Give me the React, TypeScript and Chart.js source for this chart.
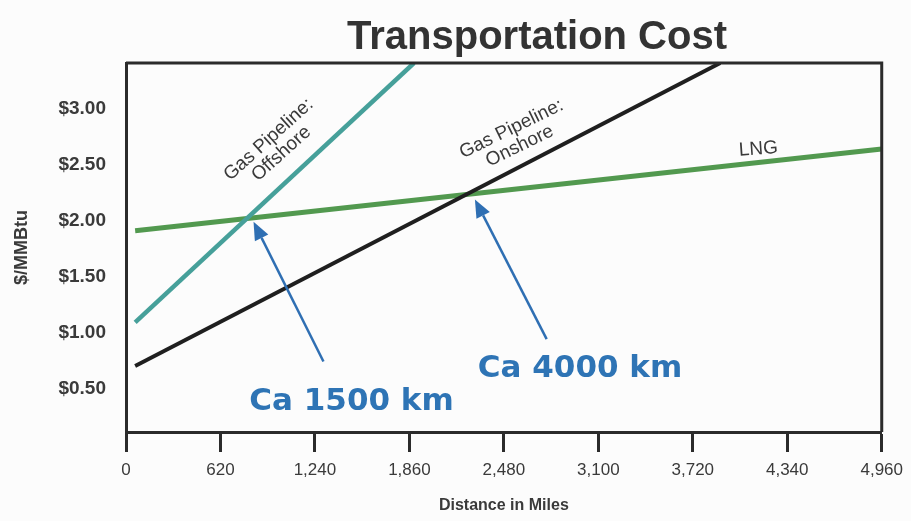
import React, { useEffect, useRef } from 'react';
import { Chart, registerables } from 'chart.js';

Chart.register(...registerables);

// Axis tick values
const distanceTicks = [0, 620, 1240, 1860, 2480, 3100, 3720, 4340, 4960]; // miles
const costTicks = [0.5, 1.0, 1.5, 2.0, 2.5, 3.0]; // $/MMBtu

// Each cost curve is a straight run between two points
const offshoreMiles = [60, 1890];
const offshoreCost = [1.09, 3.41];
const onshoreMiles = [60, 3900];
const onshoreCost = [0.7, 3.41];
const lngMiles = [60, 4960];
const lngCost = [1.91, 2.64];

// Break-even callouts
const calloutText = ['Ca 1500 km', 'Ca 4000 km'];
const calloutTipMiles = [837, 2290];
const calloutTipCost = [1.99, 2.19];

const NARROW = "'Liberation Sans Narrow', 'Arial Narrow', 'Liberation Sans', Arial, sans-serif";
const SANS = "'Liberation Sans', Arial, sans-serif";
const CALLOUT_FONT = "'DejaVu Sans', Verdana, sans-serif";

const TEXT = '#3a3a3a';
const FRAME = '#2b2b2b';
const BLUE = '#2f6fb3';

const toPoints = (xs: number[], ys: number[]) => xs.map((x, i) => ({ x, y: ys[i] }));

// Placement of the rotated line labels and the arrow callouts (data units)
const lineLabels = [
  { lines: ['Gas Pipeline:', 'Offshore'], miles: 936, cost: 2.725, angle: -42, size: 19 },
  { lines: ['Gas Pipeline:', 'Onshore'], miles: 2530, cost: 2.82, angle: -26, size: 19 },
  { lines: ['LNG'], miles: 4150, cost: 2.64, angle: -4, size: 19 },
];
const calloutLayout = [
  { tailMiles: 1296, tailCost: 0.74, textMiles: 1480, textCost: 0.38 },
  { tailMiles: 2761, tailCost: 0.94, textMiles: 2980, textCost: 0.67 },
];

const decorations = {
  id: 'decorations',
  beforeDraw(chart: any) {
    const { ctx, width, height } = chart;
    ctx.save();
    ctx.fillStyle = '#fcfcfc';
    ctx.fillRect(0, 0, width, height);
    ctx.restore();
  },
  afterDatasetsDraw(chart: any) {
    const { ctx, chartArea: a } = chart;
    const xs = chart.scales.x;
    const ys = chart.scales.y;
    ctx.save();
    // top and right edges of the plot frame
    ctx.strokeStyle = FRAME;
    ctx.lineWidth = 3;
    ctx.beginPath();
    ctx.moveTo(a.left, a.top);
    ctx.lineTo(a.right, a.top);
    ctx.lineTo(a.right, a.bottom);
    ctx.stroke();

    // rotated labels along the lines
    ctx.fillStyle = TEXT;
    ctx.textAlign = 'center';
    ctx.textBaseline = 'middle';
    lineLabels.forEach((lab) => {
      const px = xs.getPixelForValue(lab.miles);
      const py = ys.getPixelForValue(lab.cost);
      ctx.save();
      ctx.translate(px, py);
      ctx.rotate((lab.angle * Math.PI) / 180);
      ctx.font = `${lab.size}px ${SANS}`;
      lab.lines.forEach((t, i) => ctx.fillText(t, 0, i * lab.size * 1.0));
      ctx.restore();
    });

    // arrows and callout text
    calloutLayout.forEach((c, i) => {
      const tx = xs.getPixelForValue(calloutTipMiles[i]);
      const ty = ys.getPixelForValue(calloutTipCost[i]);
      const sx = xs.getPixelForValue(c.tailMiles);
      const sy = ys.getPixelForValue(c.tailCost);
      const ang = Math.atan2(ty - sy, tx - sx);
      const headLen = 18;
      const headHalf = 7.5;
      const bx = tx - headLen * Math.cos(ang);
      const by = ty - headLen * Math.sin(ang);
      ctx.strokeStyle = BLUE;
      ctx.lineWidth = 2.5;
      ctx.beginPath();
      ctx.moveTo(sx, sy);
      ctx.lineTo(bx, by);
      ctx.stroke();
      ctx.fillStyle = BLUE;
      ctx.beginPath();
      ctx.moveTo(tx, ty);
      ctx.lineTo(bx - headHalf * Math.sin(ang), by + headHalf * Math.cos(ang));
      ctx.lineTo(bx + headHalf * Math.sin(ang), by - headHalf * Math.cos(ang));
      ctx.closePath();
      ctx.fill();

      ctx.fillStyle = '#2e74b5';
      ctx.font = `bold 31px ${CALLOUT_FONT}`;
      ctx.textAlign = 'center';
      ctx.textBaseline = 'middle';
      ctx.fillText(calloutText[i], xs.getPixelForValue(c.textMiles), ys.getPixelForValue(c.textCost));
    });
    ctx.restore();
  },
  afterDraw(chart: any) {
    const { ctx } = chart;
    ctx.save();
    ctx.fillStyle = '#333333';
    ctx.font = `bold 40px ${SANS}`;
    ctx.textAlign = 'center';
    ctx.textBaseline = 'alphabetic';
    ctx.fillText('Transportation Cost', 537, 49);
    ctx.restore();
  },
};

export default function App() {
  const canvasRef = useRef<HTMLCanvasElement | null>(null);

  useEffect(() => {
    const canvas = canvasRef.current;
    if (!canvas) return;
    const chart = new Chart(canvas, {
      type: 'line',
      data: {
        datasets: [
          {
            label: 'Gas Pipeline: Offshore',
            data: toPoints(offshoreMiles, offshoreCost),
            borderColor: '#46a09a',
            borderWidth: 4.5,
            pointRadius: 0,
          },
          {
            label: 'Gas Pipeline: Onshore',
            data: toPoints(onshoreMiles, onshoreCost),
            borderColor: '#1f1f1f',
            borderWidth: 4,
            pointRadius: 0,
          },
          {
            label: 'LNG',
            data: toPoints(lngMiles, lngCost),
            borderColor: '#52994f',
            borderWidth: 5,
            pointRadius: 0,
          },
        ],
      },
      options: {
        responsive: false,
        animation: false,
        layout: { padding: { top: 63, right: 29, left: 0, bottom: 0 } },
        plugins: {
          legend: { display: false },
          title: { display: false },
          tooltip: { enabled: false },
        },
        scales: {
          x: {
            type: 'linear',
            min: 0,
            max: 4960,
            afterBuildTicks: (s: any) => {
              s.ticks = distanceTicks.map((v) => ({ value: v }));
            },
            afterFit: (s: any) => {
              s.height = 89;
            },
            ticks: {
              color: TEXT,
              font: { family: NARROW, size: 17 },
              padding: 8,
              maxRotation: 0,
              autoSkip: false,
              callback: (v: any) => Number(v).toLocaleString('en-US'),
            },
            grid: {
              display: true,
              drawOnChartArea: false,
              drawTicks: true,
              tickLength: 20,
              tickWidth: 3,
              tickColor: FRAME,
            },
            border: { display: true, color: FRAME, width: 3 },
            title: {
              display: true,
              text: 'Distance in Miles',
              color: TEXT,
              font: { family: NARROW, size: 16, weight: 'bold' },
              padding: { top: 0, bottom: 6 },
            },
          },
          y: {
            type: 'linear',
            min: 0.11,
            max: 3.41,
            afterBuildTicks: (s: any) => {
              s.ticks = costTicks.map((v) => ({ value: v }));
            },
            afterFit: (s: any) => {
              s.width = 126;
            },
            ticks: {
              color: TEXT,
              font: { family: NARROW, size: 19, weight: 'bold' },
              padding: 20,
              callback: (v: any) => '$' + Number(v).toFixed(2),
            },
            grid: { display: false, drawTicks: false },
            border: { display: true, color: FRAME, width: 3 },
            title: {
              display: true,
              text: '$/MMBtu',
              color: TEXT,
              font: { family: NARROW, size: 18, weight: 'bold' },
              padding: { top: 11, bottom: 0 },
            },
          },
        },
      },
      plugins: [decorations],
    });
    return () => chart.destroy();
  }, []);

  return (
    <div style={{ position: 'fixed', left: 0, top: 0, width: 911, height: 521, background: '#fcfcfc' }}>
      <canvas ref={canvasRef} width={911} height={521} />
    </div>
  );
}
